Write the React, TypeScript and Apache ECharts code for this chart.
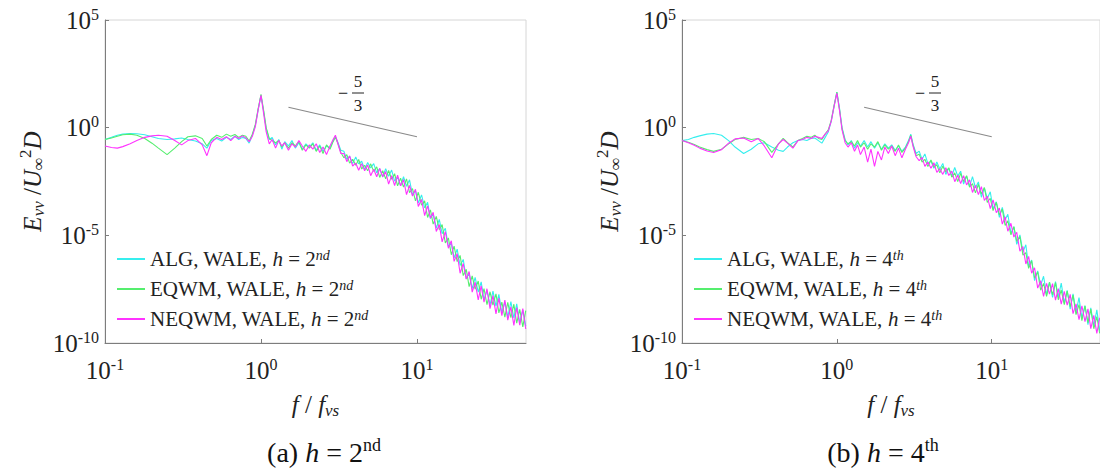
import React, { useEffect, useRef } from "react";
import * as echarts from "echarts";

// frequency f / f_vs
const FREQ = [
  0.1, 0.11, 0.12, 0.13, 0.145, 0.16, 0.18, 0.2, 0.22, 0.25,
  0.28, 0.31, 0.34, 0.38, 0.42, 0.45, 0.48, 0.52, 0.56, 0.6,
  0.64, 0.68, 0.72, 0.76, 0.8, 0.84, 0.88, 0.92, 0.96, 1.0,
  1.04, 1.08, 1.13, 1.18, 1.24, 1.3, 1.36, 1.42, 1.5, 1.58,
  1.66, 1.75, 1.84, 1.94, 2.04, 2.15, 2.26, 2.38, 2.5, 2.63,
  2.77, 2.9, 3.0, 3.1, 3.25,
  3.4, 3.55, 3.7, 3.87, 4.05, 4.23, 4.42, 4.62, 4.83, 5.05,
  5.28, 5.52, 5.77, 6.03, 6.3, 6.58, 6.88, 7.19, 7.51, 7.85,
  8.2, 8.57, 8.96, 9.36, 9.78, 10.2, 10.7, 11.2, 11.7, 12.2,
  12.7, 13.3, 13.9, 14.5, 15.2, 15.9, 16.6, 17.3, 18.1, 18.9,
  19.8, 20.7, 21.6, 22.6, 23.6, 24.7, 25.8, 26.9, 28.1, 29.4,
  30.7, 32.1, 33.5, 35.0, 36.6, 38.2, 40.0, 41.8, 43.6, 45.6,
  47.7, 49.8,
];

// log10(E_vv / U^2 D), panel (a) h = 2nd
const LEFT_ALG = [
  -0.55, -0.45, -0.35, -0.3, -0.27, -0.28, -0.33, -0.42, -0.5, -0.55,
  -0.52, -0.48, -0.55, -0.62, -0.75, -0.95, -0.6, -0.5, -0.62, -0.45,
  -0.55, -0.4, -0.55, -0.45, -0.5, -0.72, -0.35, 0.1, 0.85, 1.5,
  0.75, -0.05, -0.55, -0.45, -0.8, -0.55, -1.0, -0.65, -0.85, -0.6,
  -0.95, -0.7, -1.0, -0.75, -0.9, -0.7, -1.05, -0.8, -1.1, -0.85,
  -0.95, -0.6, -0.42, -0.65, -1.05,
  -1.10, -1.47, -1.32, -1.67, -1.36, -1.68, -1.56, -1.94, -1.62, -1.87,
  -1.67, -2.10, -1.90, -2.29, -1.90, -2.26, -1.97, -2.48, -2.29, -2.70,
  -2.28, -2.72, -2.42, -3.12, -2.92, -3.50, -3.12, -3.72, -3.47, -4.22,
  -4.00, -4.66, -4.26, -4.92, -4.67, -5.52, -5.37, -6.05, -5.64, -6.40,
  -6.12, -7.02, -6.77, -7.48, -6.95, -7.64, -7.16, -7.99, -7.56, -8.24,
  -7.59, -8.29, -7.74, -8.60, -8.10, -8.80, -8.08, -8.84, -8.18, -9.06,
  -8.47, -9.22,
];
const LEFT_EQWM = [
  -0.55, -0.48, -0.4, -0.33, -0.3, -0.35, -0.5, -0.72, -0.95, -1.25,
  -0.95, -0.65, -0.42, -0.38, -0.5, -0.85, -0.55, -0.35, -0.45, -0.3,
  -0.4, -0.32, -0.45, -0.35, -0.4, -0.62, -0.3, 0.15, 0.9, 1.55,
  0.8, 0.0, -0.5, -0.6, -0.7, -0.6, -0.9, -0.7, -0.95, -0.7,
  -0.85, -0.65, -1.05, -0.8, -0.95, -0.75, -1.1, -0.85, -1.2, -0.8,
  -1.0, -0.65, -0.45, -0.7, -1.15,
  -1.40, -1.25, -1.65, -1.47, -1.74, -1.48, -1.92, -1.75, -2.00, -1.68,
  -2.03, -1.82, -2.31, -2.00, -2.38, -1.99, -2.40, -2.14, -2.70, -2.35,
  -2.76, -2.38, -3.02, -2.83, -3.40, -3.00, -3.60, -3.40, -4.17, -3.82,
  -4.48, -4.12, -4.74, -4.50, -5.35, -5.12, -5.90, -5.50, -6.22, -5.93,
  -6.87, -6.58, -7.38, -6.88, -7.50, -7.12, -7.97, -7.47, -8.22, -7.62,
  -8.24, -7.72, -8.60, -8.10, -8.80, -8.11, -8.82, -8.20, -9.08, -8.44,
  -9.25, -8.50,
];
const LEFT_NEQWM = [
  -0.85, -0.92, -0.95, -0.88, -0.75, -0.6, -0.45, -0.38, -0.35, -0.4,
  -0.6, -0.8, -0.6, -0.5, -0.8, -1.3, -0.7, -0.45, -0.55, -0.42,
  -0.6, -0.4, -0.5, -0.38, -0.48, -0.65, -0.4, 0.05, 0.85, 1.5,
  0.65, -0.2, -0.75, -0.55, -0.95, -0.6, -0.85, -0.7, -1.05, -0.75,
  -0.9, -0.6, -0.85, -1.1, -0.8, -1.0, -0.75, -1.15, -0.9, -1.25,
  -0.85, -0.55, -0.35, -0.7, -1.2,
  -1.20, -1.58, -1.31, -1.78, -1.65, -1.98, -1.67, -2.00, -1.73, -2.23,
  -1.93, -2.28, -1.89, -2.28, -2.04, -2.62, -2.23, -2.69, -2.20, -2.70,
  -2.41, -3.11, -2.68, -3.18, -2.86, -3.66, -3.33, -4.08, -3.63, -4.20,
  -3.93, -4.82, -4.50, -5.30, -4.83, -5.60, -5.25, -6.21, -5.85, -6.76,
  -6.31, -7.03, -6.68, -7.64, -7.18, -8.00, -7.35, -8.10, -7.48, -8.40,
  -7.80, -8.65, -7.92, -8.73, -8.01, -8.94, -8.32, -9.18, -8.36, -9.17,
  -8.40, -9.35,
];

// panel (b) h = 4th
const RIGHT_ALG = [
  -0.6, -0.55, -0.45, -0.38, -0.3, -0.27, -0.35, -0.6, -0.9, -1.2,
  -1.0, -0.75, -0.7, -0.9, -1.05, -1.1, -0.9, -0.7, -0.6, -0.55,
  -0.6, -0.5, -0.48, -0.6, -0.72, -0.45, -0.2, 0.3, 1.0, 1.65,
  0.9, 0.0, -0.55, -0.8, -0.6, -0.95, -0.7, -0.85, -0.6, -0.9,
  -0.65, -0.95, -0.7, -1.0, -0.75, -0.95, -0.8, -1.05, -0.85, -1.1,
  -0.9, -0.6, -0.3, -0.75, -1.2,
  -1.09, -1.47, -1.22, -1.67, -1.55, -1.89, -1.59, -1.92, -1.66, -2.17,
  -1.88, -2.24, -1.85, -2.25, -2.02, -2.62, -2.25, -2.73, -2.27, -2.79,
  -2.52, -3.23, -2.80, -3.29, -2.98, -3.77, -3.44, -4.17, -3.70, -4.28,
  -4.02, -4.90, -4.60, -5.42, -4.98, -5.76, -5.44, -6.45, -6.15, -7.10,
  -6.65, -7.32, -6.90, -7.75, -7.17, -7.88, -7.15, -7.86, -7.22, -8.14,
  -7.56, -8.43, -7.72, -8.57, -7.89, -8.86, -8.27, -9.15, -8.37, -9.21,
  -8.46, -9.44,
];
const RIGHT_EQWM = [
  -0.6, -0.68, -0.78, -0.9, -1.02, -1.1, -1.0, -0.75, -0.55, -0.45,
  -0.55, -0.5, -0.65, -1.15, -0.75, -0.5, -0.7, -0.9, -0.6, -0.5,
  -0.4, -0.45, -0.35, -0.5, -0.55, -0.3, -0.1, 0.35, 1.05, 1.65,
  0.85, -0.05, -0.6, -0.75, -0.65, -0.85, -0.6, -0.9, -0.7, -1.0,
  -0.75, -0.9, -0.65, -1.05, -0.8, -1.0, -0.85, -1.1, -0.8, -1.15,
  -0.95, -0.65, -0.35, -0.8, -1.3,
  -1.23, -1.60, -1.47, -1.80, -1.50, -1.83, -1.72, -2.10, -1.79, -2.05,
  -1.86, -2.30, -2.10, -2.50, -2.12, -2.50, -2.23, -2.76, -2.60, -3.03,
  -2.63, -3.08, -2.78, -3.47, -3.28, -3.85, -3.47, -4.05, -3.78, -4.54,
  -4.33, -4.98, -4.60, -5.28, -5.06, -5.92, -5.80, -6.53, -6.18, -6.98,
  -6.70, -7.55, -7.23, -7.83, -7.18, -7.76, -7.20, -7.99, -7.54, -8.22,
  -7.59, -8.31, -7.78, -8.68, -8.22, -8.96, -8.27, -9.05, -8.43, -9.34,
  -8.77, -9.55,
];
const RIGHT_NEQWM = [
  -0.6, -0.7, -0.82, -0.95, -1.08, -1.15, -1.02, -0.72, -0.52, -0.48,
  -0.65, -0.5, -0.85, -1.4, -0.75, -0.55, -0.72, -0.95, -0.6, -0.55,
  -0.45, -0.5, -0.4, -0.45, -0.5, -0.3, -0.15, 0.3, 1.0, 1.6,
  0.8, -0.1, -0.7, -0.9, -0.7, -1.1, -0.8, -1.25, -0.9, -1.6,
  -1.0, -1.8, -1.1, -1.5, -0.9, -1.2, -0.85, -1.3, -0.95, -1.4,
  -1.0, -0.7, -0.4, -0.85, -1.35,
  -1.53, -1.38, -1.80, -1.60, -1.88, -1.63, -2.08, -1.91, -2.17, -1.86,
  -2.22, -2.02, -2.51, -2.21, -2.60, -2.23, -2.66, -2.42, -3.01, -2.68,
  -3.11, -2.74, -3.38, -3.18, -3.76, -3.35, -3.95, -3.73, -4.48, -4.14,
  -4.81, -4.44, -5.08, -4.86, -5.74, -5.52, -6.33, -5.98, -6.76, -6.51,
  -7.45, -7.11, -7.84, -7.23, -7.73, -7.24, -8.01, -7.47, -8.20, -7.60,
  -8.24, -7.74, -8.64, -8.18, -8.92, -8.27, -9.01, -8.41, -9.33, -8.72,
  -9.55, -8.83,
];

const METHODS = ["ALG", "EQWM", "NEQWM"];
const PANEL_TAGS = ["(a)", "(b)"];
const PANEL_H = ["2", "4"];
const PANEL_SUFFIX = ["nd", "th"];
const PANEL_DATA = [
  [LEFT_ALG, LEFT_EQWM, LEFT_NEQWM],
  [RIGHT_ALG, RIGHT_EQWM, RIGHT_NEQWM],
];
// reference slope line (-5/3)
const SLOPE_F = [1.5, 10];
const SLOPE_LOG_E = [0.95, -0.42];
const X_MIN = 0.1;
const X_MAX = 50;
const Y_MIN = 1e-10;
const Y_MAX = 1e5;

const COLORS = ["#36eeee", "#55ee6e", "#ff33ff"];
const SERIF = "Liberation Serif";
const GRID_LEFT = [105, 682];
const GRID_TOP = 20;
const GRID_W = 421;
const GRID_H = 323;
const TITLE_X = [324, 883];
const AXIS_COLOR = "#7d7d7d";
const TEXT_COLOR = "#222222";

const tickRich = {
  b: { fontFamily: SERIF, fontSize: 25, lineHeight: 28, color: TEXT_COLOR },
  s: { fontFamily: SERIF, fontSize: 16, lineHeight: 28, verticalAlign: "top", color: TEXT_COLOR },
};
const expLabel = (v: number) => `{b|10}{s|${Math.round(Math.log10(v))}}`;

export default function App() {
  const ref = useRef<HTMLDivElement>(null);
  useEffect(() => {
    if (!ref.current) return;
    const chart = echarts.init(ref.current, null, { renderer: "svg" });

    const grids = GRID_LEFT.map((l) => ({
      left: l,
      top: GRID_TOP,
      width: GRID_W,
      height: GRID_H,
      show: true,
      borderColor: "#d6d6d6",
      borderWidth: 1,
    }));

    const nameRich = {
      i: { fontFamily: SERIF, fontStyle: "italic", fontSize: 25, lineHeight: 30, color: TEXT_COLOR },
      n: { fontFamily: SERIF, fontSize: 25, lineHeight: 30, color: TEXT_COLOR },
      sub: { fontFamily: SERIF, fontStyle: "italic", fontSize: 17, lineHeight: 30, verticalAlign: "bottom", color: TEXT_COLOR },
      sup: { fontFamily: SERIF, fontSize: 17, lineHeight: 30, verticalAlign: "top", color: TEXT_COLOR },
    };

    const labelBase = {
      fontFamily: SERIF,
      fontSize: 25,
      lineHeight: 28,
      color: TEXT_COLOR,
      formatter: expLabel,
      rich: tickRich,
    };

    const xAxes = GRID_LEFT.map((_, i) => ({
      type: "log",
      logBase: 10,
      gridIndex: i,
      min: X_MIN,
      max: X_MAX,
      axisLine: { show: true, onZero: false, lineStyle: { color: AXIS_COLOR, width: 1 } },
      axisTick: { show: true, inside: true, length: 4, lineStyle: { color: AXIS_COLOR } },
      splitLine: { show: false },
      axisLabel: { ...labelBase, margin: 13, showMaxLabel: false },
      name: "{i|f} {n|/} {i|f}{sub|vs}",
      nameLocation: "middle",
      nameGap: 46,
      nameTextStyle: { fontFamily: SERIF, fontSize: 25, rich: nameRich },
    }));

    const yAxes = GRID_LEFT.map((_, i) => ({
      type: "log",
      logBase: 10,
      gridIndex: i,
      min: Y_MIN,
      max: Y_MAX,
      interval: 5,
      axisLine: { show: true, onZero: false, lineStyle: { color: AXIS_COLOR, width: 1 } },
      axisTick: { show: true, inside: true, length: 4, lineStyle: { color: AXIS_COLOR } },
      splitLine: { show: false },
      axisLabel: { ...labelBase, margin: 6 },
      name: "{i|E}{sub|vv}{n| /}{i|U}{sub|∞}{sup|2}{i|D}",
      nameLocation: "middle",
      nameGap: 58,
      nameTextStyle: { fontFamily: SERIF, fontSize: 25, rich: nameRich },
    }));

    const seriesNames = PANEL_H.map((h, p) =>
      METHODS.map((m) => `${m}, WALE, h = ${h}${PANEL_SUFFIX[p]}`)
    );

    const series: any[] = [];
    PANEL_DATA.forEach((panel, p) => {
      panel.forEach((vals, k) => {
        series.push({
          type: "line",
          name: seriesNames[p][k],
          xAxisIndex: p,
          yAxisIndex: p,
          data: FREQ.map((f, i) => [f, Math.pow(10, vals[i])]),
          symbol: "none",
          showSymbol: false,
          color: COLORS[k],
          lineStyle: { color: COLORS[k], width: 1.1 },
          silent: true,
          z: 2 + k,
        });
      });
      series.push({
        type: "line",
        name: `slope-${p}`,
        xAxisIndex: p,
        yAxisIndex: p,
        data: SLOPE_F.map((f, i) => [f, Math.pow(10, SLOPE_LOG_E[i])]),
        symbol: "none",
        lineStyle: { color: "#8a8a8a", width: 1.2 },
        silent: true,
        z: 6,
      });
    });

    const legends = seriesNames.map((names, p) => ({
      data: names,
      orient: "vertical",
      left: GRID_LEFT[p] + 7,
      top: 243,
      itemWidth: 28,
      itemHeight: 2,
      itemGap: 8,
      icon: "rect",
      selectedMode: false,
      formatter: (name: string) => name.replace(/h = (\d)(\w+)$/, "{i|h} = $1{sup|$2}"),
      textStyle: {
        fontFamily: SERIF,
        fontSize: 21,
        lineHeight: 22,
        color: TEXT_COLOR,
        rich: {
          i: { fontFamily: SERIF, fontStyle: "italic", fontSize: 21, lineHeight: 22, color: TEXT_COLOR },
          sup: { fontFamily: SERIF, fontStyle: "italic", fontSize: 14, lineHeight: 22, verticalAlign: "top", color: TEXT_COLOR },
        },
      },
    }));

    const graphics: any[] = [];
    GRID_LEFT.forEach((gl, p) => {
      // -5/3 annotation
      graphics.push(
        { type: "text", x: gl + 238, y: 93, style: { text: "−", fontFamily: SERIF, fontSize: 18, fill: TEXT_COLOR, align: "center", verticalAlign: "middle" } },
        { type: "text", x: gl + 253, y: 81, style: { text: "5", fontFamily: SERIF, fontSize: 17, fill: TEXT_COLOR, align: "center", verticalAlign: "middle" } },
        { type: "text", x: gl + 253, y: 105, style: { text: "3", fontFamily: SERIF, fontSize: 17, fill: TEXT_COLOR, align: "center", verticalAlign: "middle" } },
        { type: "line", shape: { x1: gl + 247, y1: 93, x2: gl + 259, y2: 93 }, style: { stroke: TEXT_COLOR, lineWidth: 1 } }
      );
      // panel caption
      graphics.push({
        type: "text",
        x: TITLE_X[p],
        y: 452,
        style: {
          text: `${PANEL_TAGS[p]} {i|h} = ${PANEL_H[p]}{sup|${PANEL_SUFFIX[p]}}`,
          fontFamily: SERIF,
          fontSize: 28,
          fill: "#111",
          align: "center",
          verticalAlign: "middle",
          lineHeight: 32,
          rich: {
            i: { fontFamily: SERIF, fontStyle: "italic", fontSize: 28, lineHeight: 32, fill: "#111" },
            sup: { fontFamily: SERIF, fontSize: 18, lineHeight: 32, verticalAlign: "top", fill: "#111" },
          },
        },
      });
    });

    chart.setOption({
      animation: false,
      backgroundColor: "#ffffff",
      textStyle: { fontFamily: SERIF },
      grid: grids,
      xAxis: xAxes,
      yAxis: yAxes,
      legend: legends,
      series,
      graphic: graphics,
    });
    return () => chart.dispose();
  }, []);

  return (
    <div
      ref={ref}
      style={{ position: "fixed", left: 0, top: 0, width: 1100, height: 472, background: "#fff" }}
    />
  );
}
